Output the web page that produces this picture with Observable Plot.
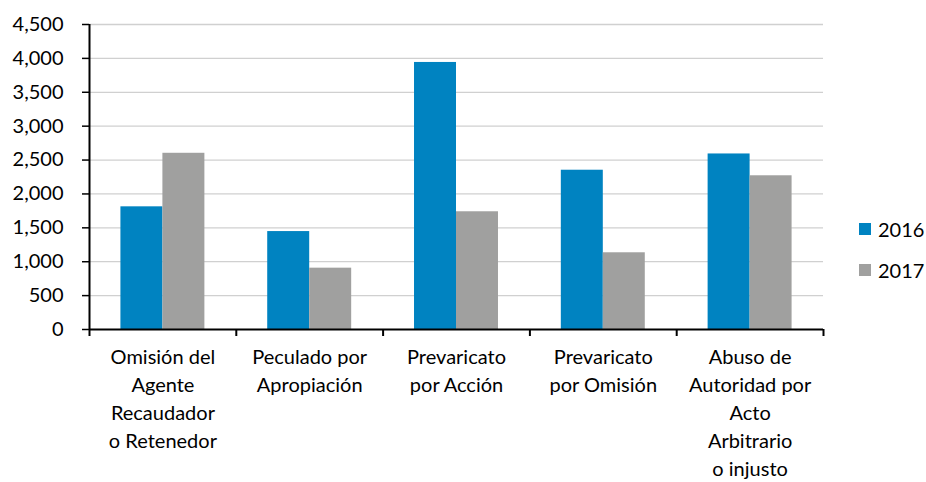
<!DOCTYPE html>
<html><head><meta charset="utf-8">
<script src="https://cdn.jsdelivr.net/npm/d3@7"></script>
<script src="https://cdn.jsdelivr.net/npm/@observablehq/plot@0.6"></script>
<style>
body{margin:0;background:#fff;font-family:Lato,sans-serif}
#wrap{position:relative;width:926px;height:482px}
.leg{position:absolute;left:859px;height:20px;display:flex;align-items:center;font-size:20px;color:#000;line-height:20px}
.leg span.sw{display:inline-block;width:12px;height:12px;margin-right:7px}
</style></head><body><div id="wrap"></div>
<script>
const categories = ["Omisión del\nAgente\nRecaudador\no Retenedor", "Peculado por\nApropiación", "Prevaricato\npor Acción", "Prevaricato\npor Omisión", "Abuso de\nAutoridad por\nActo\nArbitrario\no injusto"];
const years = ["2016", "2017"];
const values2016 = [1810, 1445, 3940, 2350, 2590];
const values2017 = [2600, 905, 1737, 1132, 2268];
const yTicks = [0, 500, 1000, 1500, 2000, 2500, 3000, 3500, 4000, 4500];
const colors = ["#0083C1", "#A0A09F"];

const rows = [];
categories.forEach((c, i) => {
  rows.push({i, cat: c, year: years[0], value: values2016[i]});
  rows.push({i, cat: c, year: years[1], value: values2017[i]});
});
const barW = 0.286;
const start = d => d.i + 0.5 - (d.year === years[0] ? barW : 0);

const chart = Plot.plot({
  width: 926, height: 482,
  marginLeft: 89, marginRight: 103, marginTop: 24, marginBottom: 153,
  style: {fontFamily: "Lato, sans-serif", fontSize: "20px", color: "#000", background: "#fff"},
  x: {domain: [0, categories.length], axis: null},
  y: {domain: [0, 4500], axis: null},
  color: {domain: years, range: colors},
  marks: [
    Plot.ruleY(yTicks.filter(t => t > 0), {stroke: "#d0d0d0", strokeWidth: 1.3}),
    Plot.rect(rows, {x1: start, x2: d => start(d) + barW, y1: 0, y2: "value", fill: "year"}),
    Plot.axisY({ticks: yTicks, tickFormat: d3.format(","), tickSize: 7, tickPadding: 19, stroke: "#000", strokeWidth: 1.5, fontSize: 20, label: null}),
    Plot.axisX({ticks: d3.range(categories.length + 1), tickFormat: () => "", tickSize: 7, stroke: "#000", strokeWidth: 2, label: null}),
    Plot.ruleX([0], {stroke: "#000", strokeWidth: 2}),
    Plot.ruleY([0], {stroke: "#000", strokeWidth: 2}),
    Plot.text(categories, {x: (d, i) => i + 0.5, text: d => d, frameAnchor: "bottom", lineAnchor: "top", dy: 15, lineHeight: 1.4, fontSize: 20, fill: "#000"})
  ]
});
const wrap = document.getElementById("wrap");
wrap.appendChild(chart);
years.forEach((y, k) => {
  const d = document.createElement("div");
  d.className = "leg";
  d.style.top = (219 + k * 41) + "px";
  d.innerHTML = `<span class="sw" style="background:${colors[k]}"></span>${y}`;
  wrap.appendChild(d);
});
</script>
</body></html>
